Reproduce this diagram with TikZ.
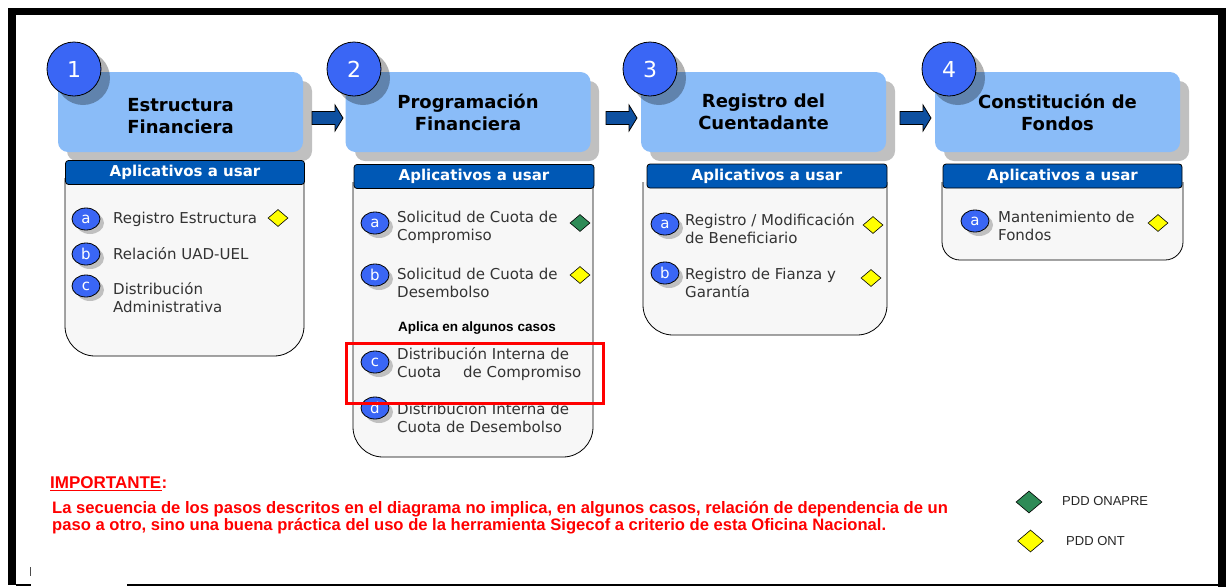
\documentclass[tikz,border=0pt]{standalone}
\usepackage{fontspec}
\setmainfont{DejaVu Sans}
\newfontfamily\arialfont{Liberation Sans}
\usetikzlibrary{calc,shapes.geometric}
\definecolor{hdr}{RGB}{138,188,248}
\definecolor{shd}{RGB}{192,192,192}
\definecolor{barblue}{RGB}{0,88,181}
\definecolor{circblue}{RGB}{58,102,245}
\definecolor{boxfill}{RGB}{247,247,247}
\definecolor{arrowblue}{RGB}{14,80,160}
\definecolor{dgreen}{RGB}{46,139,87}
\definecolor{dyellow}{RGB}{255,255,0}
\definecolor{txtgrey}{RGB}{51,51,51}
\definecolor{impred}{RGB}{255,0,0}
\newcommand\itemmk[4]{%
  \fill[shd] ({#2+4},{#3+4}) ellipse [x radius=14, y radius=11];
  \node[itemmark] (#1) at (#2,#3) {#4};}
\newcommand\stepcirc[4]{%
  \fill[black, opacity=0.3] ({#2+9},{#3+9}) circle [radius=27];
  \node[stepnum] (#1) at (#2,#3) {#4};}
\newcommand\flowarr[3]{% name, tip x, y
  \coordinate (#1) at (#2,#3);
  \filldraw[flowarrow] (#1) -- ++(-8,-13) -- ++(0,6.5) -- ++(-23,0) -- ++(0,13) -- ++(23,0) -- ++(0,6.5) -- cycle;}
\begin{document}
\begin{tikzpicture}[x=1pt,y=-1pt,
  hdrbox/.style={fill=hdr, rounded corners=10, minimum width=245, minimum height=80, inner sep=0},
  hdrtext/.style={font=\bfseries\fontsize{18}{22}\selectfont, align=center, text=black, inner sep=0},
  stepnum/.style={circle, draw=black, line width=0.8, fill=circblue, minimum size=54, inner sep=0, text=white, font=\fontsize{22}{26}\selectfont},
  appbar/.style={draw=black, line width=0.8, fill=barblue, rounded corners=3, minimum height=24, inner sep=0, text=white, font=\bfseries\fontsize{15}{18}\selectfont},
  appbox/.style={draw=black, line width=0.8, fill=boxfill},
  itemmark/.style={ellipse, draw=black, line width=0.8, fill=circblue, minimum width=28, minimum height=22, inner sep=0, text=white, font=\fontsize{15}{18}\selectfont},
  itemtext/.style={anchor=west, align=left, inner sep=0, text=txtgrey, font=\fontsize{15}{18}\selectfont},
  ydiam/.style={diamond, draw=black, line width=0.6, fill=dyellow, minimum width=20, minimum height=17, inner sep=0},
  gdiam/.style={diamond, draw=black, line width=0.6, fill=dgreen, minimum width=20, minimum height=17, inner sep=0},
  flowarrow/.style={draw=black, line width=0.8, fill=arrowblue},
  redtext/.style={inner sep=0, text=impred, font=\arialfont\bfseries\fontsize{16.6}{19}\selectfont},
  legtext/.style={anchor=west, inner sep=0, text=black!85, font=\arialfont\fontsize{13}{15}\selectfont}]
\useasboundingbox (0,0) rectangle (1227,587);
% frame
\fill[white] (0,0) rectangle (1227,587);
\fill[black] (8,8) rectangle (1226,15);
\fill[black] (8,8) rectangle (16,585);
\fill[black] (1218,8) rectangle (1226,587);
\draw[line width=1.2] (16,585) -- (31,585);
\draw[line width=1.2] (127,585) -- (1218,585);
\draw[black!70, line width=0.8] (30,567) -- (30,576);
% header shadows
\fill[shd, rounded corners=10] (67,81) rectangle (312,161);
\fill[shd, rounded corners=10] (355,81) rectangle (599,161);
\fill[shd, rounded corners=10] (650,81) rectangle (895,161);
\fill[shd, rounded corners=10] (944,81) rectangle (1189,161);
% headers
\node[hdrbox] (h1) at (180.5,112) {};
\node[hdrbox] (h2) at (468,112) {};
\node[hdrbox] (h3) at (763.5,112) {};
\node[hdrbox] (h4) at (1057.5,112) {};
\node[hdrtext] (t1) at (180.5,116) {Estructura\\Financiera};
\node[hdrtext] (t2) at (468,112) {Programación\\Financiera};
\node[hdrtext] (t3) at (763.5,112) {Registro del\\Cuentadante};
\node[hdrtext] (t4) at (1057.5,112) {Constitución de\\Fondos};
% step circles
\stepcirc{n1}{74}{69}{1}
\stepcirc{n2}{354}{69}{2}
\stepcirc{n3}{650}{69}{3}
\stepcirc{n4}{949}{69}{4}
% content boxes
\filldraw[appbox, rounded corners=30] (65,178) -- (65,356) -- (304,356) -- (304,178);
\filldraw[appbox, rounded corners=30] (353,182) -- (353,457) -- (593,457) -- (593,182);
\filldraw[appbox, rounded corners=30] (643,182) -- (643,335) -- (887,335) -- (887,182);
\filldraw[appbox, rounded corners=18] (942,182) -- (942,260) -- (1183,260) -- (1183,182);
% bars
\node[appbar, minimum width=239] (b1) at (185,172.5) {Aplicativos a usar};
\node[appbar, minimum width=240] (b2) at (474,176.5) {Aplicativos a usar};
\node[appbar, minimum width=240] (b3) at (767,176) {Aplicativos a usar};
\node[appbar, minimum width=239] (b4) at (1062.5,176) {Aplicativos a usar};
% box 1 items
\itemmk{e1a}{86}{219}{a}
\itemmk{e1b}{86}{254}{b}
\itemmk{e1c}{86}{286}{c}
\node[itemtext] (x1a) at (113,219) {Registro Estructura};
\node[itemtext] (x1b) at (113,254) {Relación UAD-UEL};
\node[itemtext] (x1c) at (113,298) {Distribución\\Administrativa};
\node[ydiam] (d1a) at (278,218) {};
% box 2 items
\itemmk{e2a}{375}{223}{a}
\itemmk{e2b}{375}{275}{b}
\itemmk{e2c}{375}{362}{c}
\itemmk{e2d}{375}{408}{d}
\node[itemtext] (x2a) at (397,227) {Solicitud de Cuota de\\Compromiso};
\node[itemtext] (x2b) at (397,282.5) {Solicitud de Cuota de\\Desembolso};
\node[inner sep=0, font=\arialfont\bfseries\fontsize{13.5}{16}\selectfont] (ap) at (477,328) {Aplica en algunos casos};
\node[itemtext] (x2c) at (397,364.5) {Distribución Interna de\\Cuota\hspace{17pt} de Compromiso};
\node[itemtext] (x2d) at (397,418) {Distribución Interna de\\Cuota de Desembolso};
\node[gdiam] (d2a) at (580,223) {};
\node[ydiam] (d2b) at (580,275) {};
\node[draw=impred, line width=3, minimum width=257, minimum height=60, inner sep=0] (hl) at (474.5,373) {};
% box 3 items
\itemmk{e3a}{665}{224}{a}
\itemmk{e3b}{665}{273}{b}
\node[itemtext] (x3a) at (685,228.5) {Registro / Modificación\\de Beneficiario};
\node[itemtext] (x3b) at (685,282.5) {Registro de Fianza y\\Garantía};
\node[ydiam] (d3a) at (873,225) {};
\node[ydiam] (d3b) at (871,278) {};
% box 4 items
\itemmk{e4a}{975}{221}{a}
\node[itemtext] (x4a) at (998,225.5) {Mantenimiento de\\Fondos};
\node[ydiam] (d4a) at (1158,223) {};
% arrows between steps
\flowarr{a12}{343}{118}
\flowarr{a23}{637}{118}
\flowarr{a34}{931}{118}
% important note
\node[redtext, anchor=base west, font=\arialfont\bfseries\fontsize{17}{20}\selectfont] (imp) at (50,488) {IMPORTANTE};
\node[redtext, anchor=base west, font=\arialfont\bfseries\fontsize{17}{20}\selectfont] (impc) at (imp.base east) {:};
\draw[impred, line width=1.8] ($(imp.base west)+(0,2.5)$) -- ($(imp.base east)+(0,2.5)$);
\node[redtext, anchor=base west] (p1) at (52,513) {La secuencia de los pasos descritos en el diagrama no implica, en algunos casos, relación de dependencia de un};
\node[redtext, anchor=base west] (p2) at (52,530) {paso a otro, sino una buena práctica del uso de la herramienta Sigecof a criterio de esta Oficina Nacional.};
% legend
\node[gdiam, minimum width=26, minimum height=22] (lg) at (1029,502) {};
\node[legtext] (lgt) at (1062,501) {PDD ONAPRE};
\node[ydiam, minimum width=26, minimum height=22] (ly) at (1030.5,541) {};
\node[legtext] (lyt) at (1066,541) {PDD ONT};
\end{tikzpicture}
\end{document}
